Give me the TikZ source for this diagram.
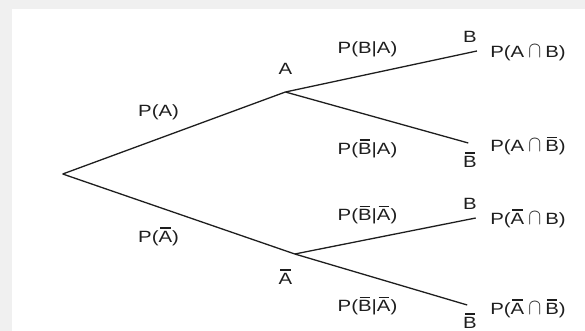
\documentclass[tikz,border=0pt]{standalone}
\usepackage{fontspec}
\setmainfont{Liberation Sans}
\usepackage{graphicx}
\definecolor{bgc}{HTML}{F0F0F0}
\definecolor{ink}{HTML}{1E1E1E}
\newcommand{\wide}[1]{\scalebox{1.25}[1]{#1}}
\newcommand{\ob}[1]{\sbox0{#1}\rlap{\hspace{0.12\wd0}\rule[\dimexpr\ht0+2.2pt\relax]{0.76\wd0}{1.1pt}}#1}
\newcommand{\capx}{\hspace{0.2em}\scalebox{0.9}[1.3]{$\cap$}\hspace{0.2em}}
\begin{document}
\begin{tikzpicture}[x=1pt,y=-1pt,
  lbl/.style={font=\fontsize{16.3}{19}\selectfont, inner sep=0pt, text=ink, anchor=base},
  br/.style={line width=1.3pt, draw=ink}]
\useasboundingbox (0,0) rectangle (585,331);
\fill[bgc] (0,0) rectangle (585,331);
\fill[white] (12,9) rectangle (585,331);
% branch points
\coordinate (R) at (62.7,174);
\coordinate (A) at (285.4,92);
\coordinate (Ab) at (294.8,254);
\coordinate (AB) at (476.9,51);
\coordinate (ABb) at (468.3,143);
\coordinate (AbB) at (475.7,218);
\coordinate (AbBb) at (467.2,305);
% branches
\draw[br] (R) -- (A);
\draw[br] (R) -- (Ab);
\draw[br] (A) -- (AB);
\draw[br] (A) -- (ABb);
\draw[br] (Ab) -- (AbB);
\draw[br] (Ab) -- (AbBb);
% event labels
\node[lbl] (lA) at (285.4,75) {\wide{A}};
\node[lbl] (lAb) at (285.4,284) {\wide{\ob{A}}};
\node[lbl] (lB1) at (470,43) {\wide{B}};
\node[lbl] (lBb1) at (470,167) {\wide{\ob{B}}};
\node[lbl] (lB2) at (470,209) {\wide{B}};
\node[lbl] (lBb2) at (470,328) {\wide{\ob{B}}};
% probabilities on branches
\node[lbl] (pA) at (158.6,116.5) {\wide{P(A)}};
\node[lbl] (pAb) at (158.6,242) {\wide{P(\ob{A})}};
\node[lbl] (pBA) at (367.5,54) {\wide{P(B|A)}};
\node[lbl] (pBbA) at (367.5,154) {\wide{P(\ob{B}|A)}};
\node[lbl] (pBAb) at (367.5,220.5) {\wide{P(\ob{B}|\ob{A})}};
\node[lbl] (pBbAb) at (367.5,311.5) {\wide{P(\ob{B}|\ob{A})}};
% joint probabilities
\node[lbl] (jAB) at (528,58) {\wide{P(A\capx B)}};
\node[lbl] (jABb) at (528,151.5) {\wide{P(A\capx\ob{B})}};
\node[lbl] (jAbB) at (528,224) {\wide{P(\ob{A}\capx B)}};
\node[lbl] (jAbBb) at (528,314) {\wide{P(\ob{A}\capx\ob{B})}};
\end{tikzpicture}
\end{document}
